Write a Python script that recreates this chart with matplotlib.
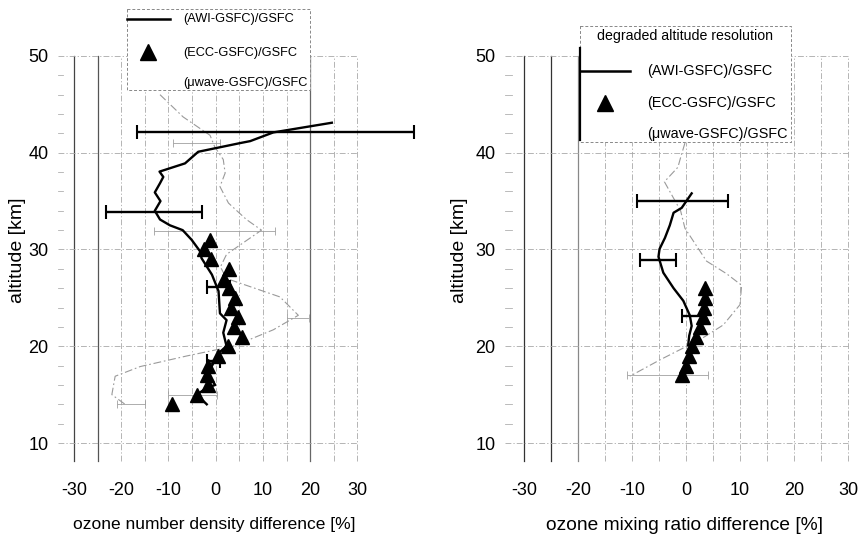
import matplotlib
matplotlib.use("Agg")
import matplotlib.pyplot as plt
import numpy as np
from matplotlib.lines import Line2D
from matplotlib.patches import Rectangle
from matplotlib.transforms import Affine2D

plt.rcParams['font.family'] = ['Liberation Sans', 'DejaVu Sans']
plt.rcParams['axes.unicode_minus'] = False

# ---------------- data: left panel (number density) ----------------
awiL_alt = [43.1, 42.1, 41.2, 41.0, 40.1, 38.9, 38.05, 37.5, 36.85, 35.9, 35.0, 34.0, 33.1,
            32.5, 32.0, 31.0, 29.8, 29.1, 27.4, 25.7, 23.4, 22.7, 21.4, 20.0, 19.3, 17.2,
            16.5, 16.0, 15.7, 15.0, 14.0]
awiL_val = [24.6, 12.2, 7.3, 5.2, -3.7, -6.5, -11.9, -11.1, -11.8, -12.9, -11.7, -12.9, -11.8,
            -9.7, -7.0, -5.1, -3.3, -3.0, -0.8, 0.6, 0.9, 2.3, 1.6, 2.3, 0.6, -1.6,
            -0.8, -0.1, -1.9, -4.0, -1.9]
eccL_alt = [31, 30, 29, 28, 27, 26, 25, 24, 23, 22, 21, 20, 19, 18, 17, 16, 15, 14]
eccL_val = [-1.3, -2.5, -1.1, 2.9, 1.8, 2.8, 4.0, 3.2, 4.8, 3.9, 5.5, 2.7, 0.4, -1.6, -1.8, -1.6, -4.0, -9.2]
mwL_alt = [46.0, 43.7, 41.8, 40.6, 39.3, 37.9, 36.5, 34.8, 33.1, 32.0, 29.5, 28.2, 27.0,
           25.1, 23.2, 21.7, 20.0, 19.0, 17.9, 16.9, 15.0, 14.0]
mwL_val = [-11.8, -6.9, -1.2, -0.2, 1.6, 2.0, 0.9, 2.7, 6.5, 9.7, 2.3, 1.0, 2.3,
           13.6, 17.5, 12.2, 3.7, -6.1, -16.0, -21.3, -22.0, -19.2]
ebL_alt = [42.1, 33.9, 26.1, 18.5]
ebL_lo = [-16.6, -23.2, -1.8, -1.9]
ebL_hi = [41.9, -2.8, 3.0, 0.9]
mwebL_alt = [41.0, 31.9, 22.9, 15.0, 14.0]
mwebL_lo = [-9.0, -13.0, 15.0, -10.0, -21.0]
mwebL_hi = [1.0, 12.6, 19.8, 0.2, -15.0]

# ---------------- data: right panel (mixing ratio) ----------------
awiR_alt = [35.8, 34.3, 33.8, 32.5, 31.2, 30.05, 29.25, 27.6, 26.0, 24.7, 23.2, 22.1, 21.1, 20.1]
awiR_val = [1.05, -0.8, -2.3, -3.0, -3.9, -4.9, -5.1, -4.2, -2.3, -0.5, 0.7, 1.05, 0.6, 0.4]
eccR_alt = [26, 25, 24, 23, 22, 21, 20, 19, 18, 17]
eccR_val = [3.6, 3.6, 3.3, 3.1, 2.6, 1.9, 1.2, 0.5, 0.0, -0.8]
mwR_alt = [41.0, 39.5, 38.5, 37.0, 35.5, 34.0, 32.2, 30.5, 28.8, 27.5, 26.3, 24.3, 22.2,
           21.0, 20.1, 18.6, 16.9]
mwR_val = [-0.2, -1.0, -1.5, -4.0, -2.5, -1.0, -0.2, 1.8, 3.8, 7.5, 10.3, 10.0, 6.9,
           3.5, 0.5, -4.8, -10.4]
ebR_alt = [35.0, 28.9, 23.1]
ebR_lo = [-9.1, -8.6, -0.7]
ebR_hi = [7.7, -1.8, 3.1]
mwebR_alt = [17.0]
mwebR_lo = [-11.0]
mwebR_hi = [4.0]

xticks = [-30, -20, -10, 0, 10, 20, 30]
yticks = [10, 20, 30, 40, 50]
xgrid = [-30, -25, -20, -15, -10, -5, 0, 5, 10, 15, 20, 25, 30]
yminor = [12, 14, 16, 18, 22, 24, 26, 28, 32, 34, 36, 38, 42, 44, 46, 48]

W, H = 861, 545
fig = plt.figure(figsize=(W / 100, H / 100), dpi=100)

def axes_px(x0, x1, y_top, y_bot):
    return fig.add_axes([x0 / W, 1 - y_bot / H, (x1 - x0) / W, (y_bot - y_top) / H])

axL = axes_px(55.2, 418.7, 46.3, 467.2)
axL.set_xlim(-34, 43)
axR = axes_px(502.4, 853.4, 46.3, 467.2)
axR.set_xlim(-34, 31)

DASHDOT = (0, (7, 2.5, 1.5, 2.5))
GRIDC = '#a8a8a8'
MWC = '#9a9a9a'

def setup(ax, solid_x, dark_x):
    ax.set_ylim(7.5, 51)
    for s in ax.spines.values():
        s.set_visible(False)
    ax.set_xticks(xticks)
    ax.set_yticks(yticks)
    ax.tick_params(length=0, labelsize=13)
    ax.tick_params(axis='x', pad=11)
    ax.tick_params(axis='y', pad=5)
    for gx in xgrid:
        if gx in solid_x:
            ax.plot([gx, gx], [8.1, 50], color=dark_x.get(gx, '#555555'), lw=0.9, zorder=1)
        else:
            ax.plot([gx, gx], [8.1, 50], color=GRIDC, lw=0.6, ls=DASHDOT, zorder=1)
    for gy in yticks:
        ax.plot([-33.5, 30], [gy, gy], color=GRIDC, lw=0.6, ls=DASHDOT, zorder=1)
    for gy in yminor:
        ax.plot([-33.5, -32.3], [gy, gy], color='#b0b0b0', lw=0.6, zorder=1)

setup(axL, solid_x=[-30, -25, 20], dark_x={-30: '#444444', -25: '#555555', 20: '#666666'})
setup(axR, solid_x=[-30, -25, -20], dark_x={-30: '#333333', -25: '#333333', -20: '#888888'})

def draw(ax, awi_a, awi_v, ecc_a, ecc_v, mw_a, mw_v, eb_a, eb_lo, eb_hi, mweb_a, mweb_lo, mweb_hi):
    lo = np.array(mweb_lo); hi = np.array(mweb_hi)
    ax.errorbar((lo + hi) / 2, mweb_a, xerr=(hi - lo) / 2, fmt='none', ecolor='#a0a0a0',
                elinewidth=0.6, capsize=3, capthick=0.6, zorder=2)
    ax.plot(mw_v, mw_a, color=MWC, lw=0.8, ls=DASHDOT, zorder=2)
    ax.plot(awi_v, awi_a, color='black', lw=1.7, zorder=4)
    lo = np.array(eb_lo); hi = np.array(eb_hi)
    ax.errorbar((lo + hi) / 2, eb_a, xerr=(hi - lo) / 2, fmt='none', ecolor='black',
                elinewidth=1.7, capsize=5, capthick=1.5, zorder=4)
    ax.plot(ecc_v, ecc_a, ls='none', marker='^', color='black', markersize=10.5, zorder=5)

draw(axL, awiL_alt, awiL_val, eccL_alt, eccL_val, mwL_alt, mwL_val,
     ebL_alt, ebL_lo, ebL_hi, mwebL_alt, mwebL_lo, mwebL_hi)
draw(axR, awiR_alt, awiR_val, eccR_alt, eccR_val, mwR_alt, mwR_val,
     ebR_alt, ebR_lo, ebR_hi, mwebR_alt, mwebR_lo, mwebR_hi)

# axis labels (figure pixel placement)
T = Affine2D().scale(1 / W, -1 / H).translate(0, 1) + fig.transFigure
fig.text(214, 525, 'ozone number density difference [%]', transform=T, ha='center', va='center', fontsize=12.5)
fig.text(684, 525, 'ozone mixing ratio difference [%]', transform=T, ha='center', va='center', fontsize=13.8)
fig.text(18, 250, 'altitude [km]', transform=T, ha='center', va='center', rotation=90, fontsize=14)
fig.text(460, 250, 'altitude [km]', transform=T, ha='center', va='center', rotation=90, fontsize=14)

# ---------------- legends ----------------
def rect(x0, y0, x1, y1):
    fig.add_artist(Rectangle((x0, y0), x1 - x0, y1 - y0, transform=T, facecolor='white',
                             edgecolor='#888888', lw=0.7, ls=(0, (3, 2)), zorder=10))

def seg(x0, y0, x1, y1, lw=1.8, color='black'):
    fig.add_artist(Line2D([x0, x1], [y0, y1], transform=T, color=color, lw=lw, zorder=11))

def tri(x, y):
    fig.add_artist(Line2D([x], [y], transform=T, marker='^', color='black', markersize=11.5,
                          ls='none', zorder=11))

# left legend
rect(127, 9, 310, 90)
seg(127, 19, 170, 19)
fig.text(183, 19, '(AWI-GSFC)/GSFC', transform=T, ha='left', va='center', fontsize=9.2, zorder=12)
tri(148, 52)
fig.text(183, 53, '(ECC-GSFC)/GSFC', transform=T, ha='left', va='center', fontsize=9.2, zorder=12)
fig.text(183, 83, '(μwave-GSFC)/GSFC', transform=T, ha='left', va='center', fontsize=9.2, zorder=12)

# right legend
rect(580, 26, 791, 142)
fig.text(685, 36, 'degraded altitude resolution', transform=T, ha='center', va='center', fontsize=10.2, zorder=12)
seg(580, 48, 580, 140, lw=1.6)
seg(580, 71, 630, 71)
fig.text(647, 71, '(AWI-GSFC)/GSFC', transform=T, ha='left', va='center', fontsize=10.4, zorder=12)
tri(605, 103)
fig.text(647, 103, '(ECC-GSFC)/GSFC', transform=T, ha='left', va='center', fontsize=10.4, zorder=12)
fig.text(647, 134, '(μwave-GSFC)/GSFC', transform=T, ha='left', va='center', fontsize=10.4, zorder=12)

fig.savefig('out.png', dpi=100)
